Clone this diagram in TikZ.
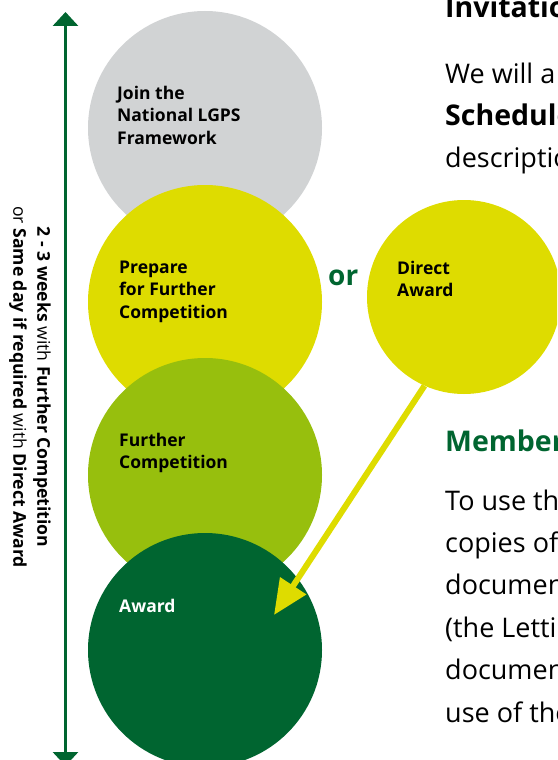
\documentclass[tikz,border=0pt]{standalone}
\usepackage{fontspec}
\setmainfont{Open Sans}
\usetikzlibrary{arrows.meta}

\definecolor{lgpsgrey}{HTML}{D1D3D4}
\definecolor{lgpsyellow}{HTML}{DEDC00}
\definecolor{lgpslime}{HTML}{97BF0D}
\definecolor{lgpsgreen}{HTML}{006530}

\tikzset{
  stage/.style={circle, minimum size=234pt, inner sep=0pt},
  stagetext/.style={anchor=north west, inner sep=0pt, align=left,
    font=\bfseries\fontsize{17.5}{22.5}\selectfont},
  bodytext/.style={anchor=base west, inner sep=0pt,
    font=\fontsize{27}{27}\selectfont},
  headtext/.style={anchor=base west, inner sep=0pt,
    font=\bfseries\fontsize{28.5}{28.5}\selectfont},
}

\begin{document}
\begin{tikzpicture}[x=1pt, y=-1pt]
\useasboundingbox (0,0) rectangle (557,760);
\clip (0,0) rectangle (557,760);

% the four stages, each one lying over the one before
\node [stage, fill=lgpsgrey] (join) at (205,128) {};
\node [stage, fill=lgpsyellow] (prepare) at (205,302) {};
\node [stage, fill=lgpslime] (further) at (205,475) {};
\node [stage, fill=lgpsgreen] (award) at (205,650) {};
\node [circle, minimum size=194pt, inner sep=0pt, fill=lgpsyellow] (direct) at (464,297) {};

\node [stagetext] (joinlbl) at (117,85.7) {Join the\\National LGPS\\Framework};
\node [stagetext] (preparelbl) at (119,260.5) {Prepare\\for Further\\Competition};
\node [stagetext] (furtherlbl) at (119,432.7) {Further\\Competition};
\node [stagetext, text=white] (awardlbl) at (119,598.7) {Award};
\node [stagetext] (directlbl) at (397,260.7) {Direct\\Award};
\node [anchor=base west, inner sep=0pt, text=lgpsgreen,
  font=\bfseries\fontsize{28}{28}\selectfont] (or) at (328,285) {or};

% direct award skips straight to the award
\coordinate (awardtip) at (274,615);
\draw [lgpsyellow, line width=6pt, -{Triangle[width=30pt,length=35pt]}] (direct.246) -- (awardtip);

% time span
\coordinate (spantop) at (65.5,12);
\coordinate (spanbot) at (65.5,766);
\draw [lgpsgreen, line width=3pt, {Triangle[width=25pt,length=14pt]}-{Triangle[width=25pt,length=14pt]}] (spantop) -- (spanbot);
\node [rotate=-90, align=center, inner sep=0pt, font=\fontsize{17.6}{24}\selectfont] (span) at (30,387)
  {\textbf{2 - 3 weeks} with \textbf{Further Competition}\\or \textbf{Same day if required} with \textbf{Direct Award}};

% text beside the diagram
\node [headtext] (invite) at (445,18) {Invitation};
\node [bodytext] (body1) at (445,83) {We will a};
\node [headtext] (body2) at (445,125) {Schedule};
\node [bodytext] (body3) at (445,167) {description};
\node [headtext, text=lgpsgreen] (members) at (445,451) {Members};
\node [bodytext] (use1) at (445,510) {To use the};
\node [bodytext] (use2) at (445,552.4) {copies of};
\node [bodytext] (use3) at (445,594.8) {document};
\node [bodytext] (use4) at (445,637.2) {(the Letting};
\node [bodytext] (use5) at (445,679.6) {document};
\node [bodytext] (use6) at (445,722) {use of the};
\end{tikzpicture}
\end{document}
